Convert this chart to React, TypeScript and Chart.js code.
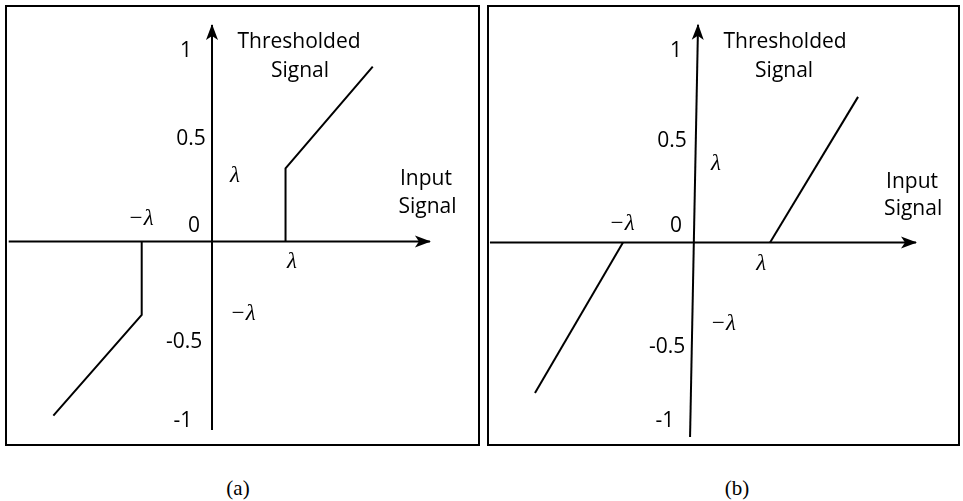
import React, { useEffect, useRef } from "react";
import { Chart, registerables } from "chart.js";

Chart.register(...registerables);

// ---------- data (signal units) ----------
// Panel (a): hard thresholding
const hardPosX = [0.387, 0.387, 0.846];
const hardPosY = [0, 0.385, 0.92];
const hardNegX = [-0.37, -0.37, -0.835];
const hardNegY = [0, -0.387, -0.917];

// Panel (b): soft thresholding
const softPosX = [0.4, 0.863];
const softPosY = [0, 0.766];
const softNegX = [-0.374, -0.837];
const softNegY = [0, -0.792];

// Axes (start, arrow tip)
const axisAxX = [-1.07, 1.147];
const axisAxY = [0, 0];
const axisAyX = [0, 0];
const axisAyY = [-0.992, 1.139];
const axisBxX = [-1.074, 1.168];
const axisBxY = [0, 0];
const axisByX = [-0.021, 0.021];
const axisByY = [-1.024, 1.145];

// Scale limits
const xRangeA = [-1.079, 1.4];
const yRangeA = [-1.066, 1.234];
const xRangeB = [-1.079, 1.389];
const yRangeB = [-1.061, 1.239];

// Tick labels on the vertical axis
const tickLabels = ["1", "0.5", "0", "-0.5", "-1"];
const tickXA = [-0.137, -0.111, -0.095, -0.147, -0.153];
const tickYA = [0.971, 0.508, 0.05, -0.561, -0.976];
const tickXB = [-0.095, -0.116, -0.095, -0.142, -0.153];
const tickYB = [0.976, 0.503, 0.055, -0.582, -0.971];

// Lambda labels
const lambdaLabels = ["\u03BB", "\u2212\u03BB", "\u03BB", "\u2212\u03BB"];
const lambdaXA = [0.121, -0.374, 0.421, 0.163];
const lambdaYA = [0.313, 0.087, -0.139, -0.413];
const lambdaXB = [0.116, -0.379, 0.353, 0.153];
const lambdaYB = [0.382, 0.066, -0.145, -0.461];

// Axis titles
const titleLines = ["Thresholded", "Signal", "Input", "Signal"];
const titleXA = [0.458, 0.463, 1.126, 1.134];
const titleYA = [1.018, 0.866, 0.297, 0.15];
const titleXB = [0.479, 0.474, 1.147, 1.153];
const titleYB = [1.024, 0.871, 0.287, 0.145];

const captions = ["(a)", "(b)"];

// ---------- helpers ----------
const pts = (xs: number[], ys: number[]) => xs.map((x, i) => ({ x, y: ys[i] }));

const diagramPlugin = {
  id: "diagramExtras",
  afterDatasetsDraw(chart: any, _args: any, opts: any) {
    const { ctx } = chart;
    const sx = chart.scales.x;
    const sy = chart.scales.y;
    ctx.save();
    // arrow heads on axes
    chart.data.datasets.forEach((ds: any) => {
      if (!ds.arrow) return;
      const d = ds.data;
      const n = d.length;
      const x1 = sx.getPixelForValue(d[n - 2].x);
      const y1 = sy.getPixelForValue(d[n - 2].y);
      const x2 = sx.getPixelForValue(d[n - 1].x);
      const y2 = sy.getPixelForValue(d[n - 1].y);
      const len = Math.hypot(x2 - x1, y2 - y1);
      const ux = (x2 - x1) / len;
      const uy = (y2 - y1) / len;
      const px = -uy;
      const py = ux;
      const L = 15, W = 6, N = 4;
      ctx.beginPath();
      ctx.moveTo(x2 + ux, y2 + uy);
      ctx.lineTo(x2 - L * ux + W * px, y2 - L * uy + W * py);
      ctx.lineTo(x2 - (L - N) * ux, y2 - (L - N) * uy);
      ctx.lineTo(x2 - L * ux - W * px, y2 - L * uy - W * py);
      ctx.closePath();
      ctx.fillStyle = "#000";
      ctx.fill();
    });
    // text labels
    ctx.fillStyle = "#000";
    ctx.textAlign = "center";
    ctx.textBaseline = "alphabetic";
    (opts.groups || []).forEach((g: any) => {
      ctx.font = g.font;
      g.texts.forEach((t: string, i: number) => {
        ctx.fillText(t, sx.getPixelForValue(g.xs[i]), sy.getPixelForValue(g.ys[i]));
      });
    });
    ctx.restore();
  },
};

const numFont = '21px "Open Sans"';
const greekFont = 'italic 23px "Liberation Serif"';
const titleFont = '21px "Open Sans"';
const captionFont = '21px "Liberation Serif"';

function Panel(props: {
  left: number;
  width: number;
  lines: { x: number[]; y: number[] }[];
  axes: { x: number[]; y: number[] }[];
  xRange: number[];
  yRange: number[];
  tickX: number[];
  tickY: number[];
  lamX: number[];
  lamY: number[];
  titX: number[];
  titY: number[];
}) {
  const ref = useRef<HTMLCanvasElement>(null);
  useEffect(() => {
    if (!ref.current) return;
    const lineStyle = {
      showLine: true,
      borderColor: "#000",
      backgroundColor: "#000",
      borderWidth: 2,
      pointRadius: 0,
      fill: false,
      tension: 0,
    };
    const datasets: any[] = [
      ...props.axes.map((a) => ({ ...lineStyle, data: pts(a.x, a.y), arrow: true })),
      ...props.lines.map((l) => ({ ...lineStyle, data: pts(l.x, l.y) })),
    ];
    const chart = new Chart(ref.current, {
      type: "scatter",
      data: { datasets },
      plugins: [diagramPlugin],
      options: {
        animation: false,
        responsive: false,
        events: [],
        layout: { padding: 0 },
        scales: {
          x: { type: "linear", min: props.xRange[0], max: props.xRange[1], display: false },
          y: { type: "linear", min: props.yRange[0], max: props.yRange[1], display: false },
        },
        plugins: {
          legend: { display: false },
          tooltip: { enabled: false },
          diagramExtras: {
            groups: [
              { font: numFont, texts: tickLabels, xs: props.tickX, ys: props.tickY },
              { font: greekFont, texts: lambdaLabels, xs: props.lamX, ys: props.lamY },
              { font: titleFont, texts: titleLines, xs: props.titX, ys: props.titY },
            ],
          },
        },
      } as any,
    });
    return () => chart.destroy();
  }, []);
  return (
    <div
      style={{
        position: "absolute",
        left: props.left,
        top: 5,
        width: props.width,
        height: 441,
        border: "2px solid #000",
        boxSizing: "border-box",
        background: "#fff",
      }}
    >
      <canvas ref={ref} width={props.width - 4} height={437} style={{ display: "block" }} />
    </div>
  );
}

const captionStyle = (left: number): React.CSSProperties => ({
  position: "absolute",
  left,
  top: 477,
  width: 60,
  textAlign: "center",
  font: captionFont,
  lineHeight: "22px",
});

export default function App() {
  return (
    <div style={{ position: "absolute", left: 0, top: 0, width: 963, height: 501, background: "#fff" }}>
      <Panel
        left={5}
        width={475}
        axes={[
          { x: axisAxX, y: axisAxY },
          { x: axisAyX, y: axisAyY },
        ]}
        lines={[
          { x: hardPosX, y: hardPosY },
          { x: hardNegX, y: hardNegY },
        ]}
        xRange={xRangeA}
        yRange={yRangeA}
        tickX={tickXA}
        tickY={tickYA}
        lamX={lambdaXA}
        lamY={lambdaYA}
        titX={titleXA}
        titY={titleYA}
      />
      <Panel
        left={487}
        width={473}
        axes={[
          { x: axisBxX, y: axisBxY },
          { x: axisByX, y: axisByY },
        ]}
        lines={[
          { x: softPosX, y: softPosY },
          { x: softNegX, y: softNegY },
        ]}
        xRange={xRangeB}
        yRange={yRangeB}
        tickX={tickXB}
        tickY={tickYB}
        lamX={lambdaXB}
        lamY={lambdaYB}
        titX={titleXB}
        titY={titleYB}
      />
      <div style={captionStyle(208)}>{captions[0]}</div>
      <div style={captionStyle(707)}>{captions[1]}</div>
    </div>
  );
}
